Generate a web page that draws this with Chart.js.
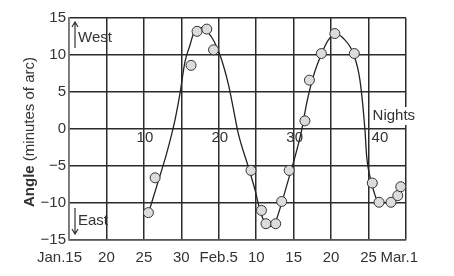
<!DOCTYPE html>
<html>
<head>
<meta charset="utf-8">
<script src="https://cdn.jsdelivr.net/npm/chart.js@4/dist/chart.umd.min.js"></script>
<style>
  html, body { margin: 0; padding: 0; background: #fff; }
</style>
</head>
<body>
<canvas id="moonChart" width="454" height="276"></canvas>
<script>
// tick labels
const dateLabels = ['Jan.15', '20', '25', '30', 'Feb.5', '10', '15', '20', '25', 'Mar.1'];
const nightLabels = [10, 20, 30, 40];

// observed points (nights, angle in minutes of arc)
const obsNights = [10.6, 11.5, 16.3, 17.1, 18.4, 19.3, 24.3, 25.7, 26.3, 27.6, 28.4, 29.4,
                   31.5, 32.1, 33.7, 35.5, 38.1, 40.5, 41.4, 43.0, 43.9, 44.3];
const obsAngle = [-11.3, -6.6, 8.6, 13.2, 13.5, 10.7, -5.6, -11.0, -12.8, -12.8, -9.8, -5.6,
                  1.1, 6.6, 10.2, 12.9, 10.2, -7.3, -9.9, -9.9, -9.0, -7.8];

// hand-drawn curve
const curveNights = [10.6, 12.15, 13.04, 14.15, 14.82, 15.49, 16.16, 16.73, 17.72, 19.05, 20.16,
                     21.27, 21.9, 22.6, 23.94, 24.83, 25.5, 26.17, 26.84, 27.5, 28.4, 29.28, 29.95,
                     31.07, 31.74, 32.62, 33.74, 34.62, 35.51, 36.62, 37.96, 38.85, 39.52,
                     39.75, 40.41, 41.3, 42.86, 43.97, 44.42];
const curveAngle = [-11.4, -6.3, -3.3, 1.2, 4.8, 9.1, 11.35, 13.15, 13.7, 12.4, 10.0,
                    6.1, 3.0, -0.6, -5.1, -8.2, -10.95, -12.7, -13.2, -12.7, -10.0, -6.9, -4.6,
                    -0.14, 3.5, 7.1, 10.2, 12.0, 12.85, 12.26, 10.2, 6.6, -0.14,
                    -3.7, -7.3, -9.8, -9.96, -9.15, -7.8];

const ink = '#333';
const fontFam = '"Liberation Sans", Arial, sans-serif';

const curveData = curveNights.map((x, i) => ({ x: x, y: curveAngle[i] }));
const obsData = obsNights.map((x, i) => ({ x: x, y: obsAngle[i] }));

const extras = {
    id: 'extras',
    afterDraw(chart) {
        const ctx = chart.ctx;
        const area = chart.chartArea;
        const xs = chart.scales.x;
        const ys = chart.scales.y;
        ctx.save();
        ctx.fillStyle = ink;
        ctx.font = '15px ' + fontFam;
        ctx.textBaseline = 'middle';

        // date labels under the axis
        dateLabels.forEach(function (lab, i) {
            const px = xs.getPixelForValue(i * 5);
            const py = area.bottom + 18;
            if (i === 0) {
                ctx.textAlign = 'right';
                ctx.fillText(lab, px + 13, py);
            } else if (i === dateLabels.length - 1) {
                ctx.textAlign = 'right';
                ctx.fillText(lab, px + 12, py);
            } else {
                ctx.textAlign = 'center';
                ctx.fillText(lab, px, py);
            }
        });

        // nights labels along the zero line
        const y0 = ys.getPixelForValue(0);
        nightLabels.forEach(function (n) {
            const px = xs.getPixelForValue(n);
            if (n === 40) {
                ctx.textAlign = 'left';
                ctx.fillText(String(n), px + 3, y0 + 9);
            } else {
                ctx.textAlign = 'center';
                ctx.fillText(String(n), px + 1, y0 + 9);
            }
        });

        // "Nights" with white box
        const nx = xs.getPixelForValue(40) + 4;
        const ny = y0 - 13;
        const nw = ctx.measureText('Nights').width;
        ctx.fillStyle = '#fff';
        ctx.fillRect(nx - 1, ny - 9, nw + 2, 18);
        ctx.fillStyle = ink;
        ctx.textAlign = 'left';
        ctx.fillText('Nights', nx, ny);

        // West / East arrows
        const ax = area.left + 6;
        ctx.strokeStyle = ink;
        ctx.lineWidth = 1.2;
        ctx.beginPath();
        ctx.moveTo(ax, area.top + 30);
        ctx.lineTo(ax, area.top + 4);
        ctx.moveTo(ax - 3, area.top + 9);
        ctx.lineTo(ax, area.top + 4);
        ctx.lineTo(ax + 3, area.top + 9);
        ctx.moveTo(ax, area.bottom - 32);
        ctx.lineTo(ax, area.bottom - 6);
        ctx.moveTo(ax - 3, area.bottom - 11);
        ctx.lineTo(ax, area.bottom - 6);
        ctx.lineTo(ax + 3, area.bottom - 11);
        ctx.stroke();
        ctx.fillText('West', ax + 3, area.top + 20);
        ctx.fillText('East', ax + 3, area.bottom - 19);

        // y axis title: bold "Angle" then normal text
        const bold = 'bold 15px ' + fontFam;
        const norm = '15px ' + fontFam;
        ctx.font = bold;
        const w1 = ctx.measureText('Angle ').width;
        ctx.font = norm;
        const w2 = ctx.measureText('(minutes of arc)').width;
        const cy = (area.top + area.bottom) / 2 + 3;
        ctx.translate(30, cy);
        ctx.rotate(-Math.PI / 2);
        ctx.textAlign = 'left';
        ctx.font = bold;
        ctx.fillText('Angle', -(w1 + w2) / 2, 0);
        ctx.font = norm;
        ctx.fillText('(minutes of arc)', -(w1 + w2) / 2 + w1, 0);
        ctx.restore();
    }
};

const moonChart = new Chart(document.getElementById('moonChart').getContext('2d'), {
    type: 'scatter',
    data: {
        datasets: [{
            data: obsData,
            showLine: false,
            pointRadius: 5,
            pointBackgroundColor: '#dcdcdc',
            pointBorderColor: '#333',
            pointBorderWidth: 1,
            order: 0
        }, {
            data: curveData,
            showLine: true,
            borderColor: '#222',
            borderWidth: 1.3,
            cubicInterpolationMode: 'monotone',
            pointRadius: 0,
            order: 1
        }]
    },
    plugins: [extras],
    options: {
        responsive: false,
        animation: false,
        devicePixelRatio: 1,
        layout: { padding: { left: 0, right: 48, top: 18, bottom: 0 } },
        plugins: { legend: { display: false }, tooltip: { enabled: false } },
        scales: {
            x: {
                type: 'linear',
                min: 0,
                max: 45,
                afterFit: function (s) { s.height = 36; },
                ticks: { display: false, stepSize: 5 },
                grid: { color: '#2b2b2b', lineWidth: 1.5, drawTicks: false },
                border: { color: '#555', width: 1.5 }
            },
            y: {
                min: -15,
                max: 15,
                afterFit: function (s) { s.width = 69; },
                ticks: {
                    stepSize: 5,
                    padding: 3,
                    color: ink,
                    font: { family: fontFam, size: 15 },
                    callback: function (v) { return v < 0 ? '\u2212' + Math.abs(v) : String(v); }
                },
                grid: { color: '#2b2b2b', lineWidth: 1.5, drawTicks: false },
                border: { color: '#777', width: 1.5 }
            }
        }
    }
});
</script>
</body>
</html>
